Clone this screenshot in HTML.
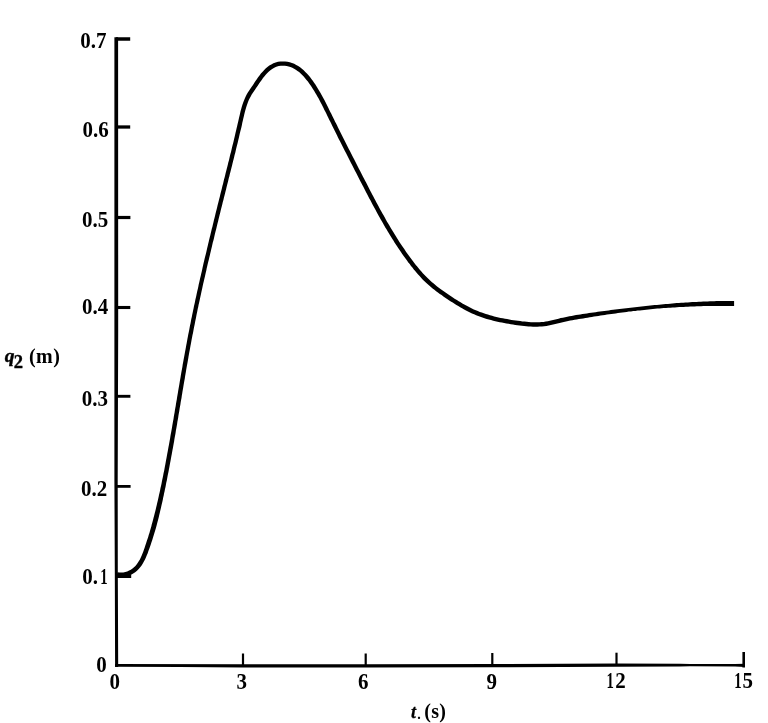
<!DOCTYPE html>
<html><head><meta charset="utf-8"><title>q2 vs t</title>
<style>
html,body{margin:0;padding:0;background:#fff;}
body{width:768px;height:723px;overflow:hidden;position:relative;}
svg{position:absolute;left:0;top:0;display:block;}
text{font-family:"Liberation Serif","DejaVu Serif",serif;font-weight:bold;font-size:21px;fill:#000;}
</style></head><body>
<svg width="768" height="723" viewBox="0 0 768 723">
<rect width="768" height="723" fill="#fff"/>
<g fill="#000" stroke="none">
<!-- y axis -->
<path d="M114.4 37.2L118.1 37.2L118.2 330L117.9 420L117.7 480L117.8 570L118.2 667L115.1 667L114.8 570L114.4 480Z"/>
<!-- x axis -->
<path d="M115 664.05L243 664.25L365 664.15L492 664.05L616 663.5L680 663.8L690 664L735 664L745 663.8L745 666.9L735 666.4L690 666.3L680 666.5L616 666.75L492 667.35L365 667.45L243 667.5L180 667.0L115 666.8Z"/>
</g>
<g stroke="#000" fill="none">
<!-- y ticks -->
<path d="M116 39H130.2" stroke-width="3.5"/>
<path d="M116 127H130.2" stroke-width="3.3"/>
<path d="M116 217.5H130.4" stroke-width="3.2"/>
<path d="M116 307.5H130.3" stroke-width="3.1"/>
<path d="M116 396.3H130.4" stroke-width="2.9"/>
<path d="M116 486.4H130.6" stroke-width="2.8"/>
<path d="M116 576.3H131.2" stroke-width="3.4"/>
<!-- x ticks -->
<g stroke-width="2.2">
<path d="M243 653.5V665"/>
<path d="M365.7 653.5V665"/>
<path d="M492.3 653V665"/>
<path d="M616.5 652.7V665"/>
<path d="M743.7 652V667.5" stroke-width="2.6"/>
</g>
</g>
<path d="M116.4 576.6L119.0 577.0L121.5 577.1L124.0 576.9L126.4 576.4L128.8 575.7L131.1 574.7L133.2 573.5L135.2 572.2L137.0 570.7L138.7 569.0L140.2 567.3L141.6 565.4L142.8 563.5L143.9 561.5L145.0 559.5L145.9 557.4L146.8 555.3L147.7 553.2L148.4 551.1L149.2 548.9L150.0 546.8L150.7 544.7L151.4 542.6L152.1 540.5L152.8 538.3L153.4 536.2L154.1 534.1L154.7 532.0L155.4 529.8L156.0 527.7L156.6 525.6L157.1 523.4L157.7 521.3L158.3 519.1L158.8 517.0L159.3 514.8L159.8 512.7L160.3 510.5L160.8 508.4L161.3 506.2L161.8 504.1L162.3 501.9L162.8 499.8L163.2 497.6L163.7 495.5L164.1 493.3L164.6 491.2L165.0 489.0L165.5 486.9L165.9 484.7L166.3 482.5L166.8 480.4L167.2 478.2L167.6 476.1L168.0 473.9L168.5 471.7L168.9 469.6L169.3 467.4L169.7 465.2L170.1 463.1L170.5 460.9L170.9 458.7L171.3 456.6L171.7 454.4L172.1 452.2L172.5 450.1L172.9 447.9L173.3 445.7L173.7 443.6L174.1 441.4L174.4 439.2L174.8 437.0L175.2 434.9L175.6 432.7L175.9 430.5L176.3 428.4L176.7 426.2L177.1 424.0L177.4 421.8L177.8 419.7L178.2 417.5L178.5 415.3L178.9 413.1L179.3 411.0L179.6 408.8L180.0 406.6L180.4 404.4L180.7 402.3L181.1 400.1L181.5 397.9L181.8 395.7L182.2 393.6L182.5 391.4L182.9 389.2L183.3 387.0L183.6 384.9L184.0 382.7L184.4 380.5L184.8 378.4L185.1 376.2L185.5 374.0L185.9 371.8L186.2 369.7L186.6 367.5L187.0 365.3L187.4 363.2L187.8 361.0L188.2 358.8L188.5 356.7L188.9 354.5L189.3 352.3L189.7 350.2L190.1 348.0L190.5 345.8L190.9 343.7L191.3 341.5L191.7 339.3L192.1 337.2L192.5 335.0L193.0 332.9L193.4 330.7L193.8 328.5L194.2 326.4L194.7 324.2L195.1 322.1L195.5 319.9L196.0 317.7L196.4 315.6L196.8 313.4L197.3 311.3L197.7 309.1L198.2 307.0L198.6 304.8L199.1 302.7L199.6 300.5L200.0 298.4L200.5 296.2L201.0 294.1L201.4 291.9L201.9 289.8L202.4 287.6L202.8 285.5L203.3 283.3L203.8 281.2L204.3 279.1L204.8 276.9L205.3 274.8L205.8 272.6L206.3 270.5L206.7 268.3L207.2 266.2L207.7 264.0L208.2 261.9L208.8 259.8L209.3 257.6L209.8 255.5L210.3 253.3L210.8 251.2L211.3 249.1L211.8 246.9L212.3 244.8L212.8 242.6L213.4 240.5L213.9 238.4L214.4 236.2L214.9 234.1L215.4 232.0L216.0 229.8L216.5 227.7L217.0 225.5L217.5 223.4L218.1 221.3L218.6 219.1L219.1 217.0L219.6 214.9L220.2 212.7L220.7 210.6L221.2 208.5L221.8 206.3L222.3 204.2L222.8 202.0L223.4 199.9L223.9 197.8L224.5 195.6L225.0 193.5L225.5 191.4L226.1 189.2L226.6 187.1L227.1 185.0L227.7 182.8L228.2 180.7L228.7 178.6L229.3 176.4L229.8 174.3L230.4 172.1L230.9 170.0L231.4 167.9L232.0 165.7L232.5 163.6L233.0 161.5L233.6 159.3L234.1 157.2L234.6 155.0L235.2 152.9L235.7 150.8L236.2 148.6L236.7 146.5L237.3 144.3L237.8 142.2L238.3 140.0L238.8 137.9L239.3 135.8L239.8 133.6L240.3 131.5L240.9 129.3L241.4 127.2L241.9 125.0L242.3 122.8L242.8 120.7L243.3 118.5L243.8 116.4L244.3 114.3L244.8 112.2L245.4 110.1L246.0 108.0L246.6 106.0L247.3 104.0L248.0 102.0L248.8 100.1L249.7 98.2L250.7 96.4L251.7 94.6L252.9 92.8L254.1 91.0L255.3 89.2L256.6 87.3L257.9 85.4L259.1 83.6L260.4 81.7L261.7 79.9L263.0 78.1L264.3 76.4L265.7 74.8L267.1 73.2L268.6 71.8L270.1 70.4L271.8 69.2L273.4 68.2L275.2 67.3L277.0 66.6L278.8 66.1L280.8 65.8L282.7 65.7L284.7 65.8L286.7 66.1L288.6 66.5L290.5 67.1L292.3 67.8L294.1 68.7L295.8 69.7L297.5 70.9L299.1 72.1L300.7 73.5L302.2 75.0L303.7 76.5L305.1 78.2L306.5 79.9L307.9 81.6L309.2 83.4L310.5 85.2L311.7 87.1L312.9 88.9L314.1 90.8L315.2 92.7L316.3 94.5L317.4 96.4L318.5 98.3L319.5 100.2L320.5 102.2L321.5 104.1L322.5 106.0L323.5 108.0L324.4 109.9L325.4 111.8L326.4 113.8L327.3 115.8L328.3 117.7L329.2 119.7L330.2 121.6L331.2 123.6L332.1 125.6L333.1 127.5L334.1 129.5L335.1 131.5L336.1 133.4L337.1 135.4L338.0 137.4L339.0 139.4L340.0 141.3L341.0 143.3L342.0 145.3L343.0 147.2L344.0 149.2L345.0 151.2L346.0 153.1L347.0 155.1L348.0 157.1L349.0 159.1L350.0 161.0L351.0 163.0L352.1 165.0L353.1 166.9L354.1 168.9L355.1 170.9L356.1 172.8L357.1 174.8L358.1 176.8L359.1 178.8L360.1 180.7L361.2 182.7L362.2 184.7L363.2 186.6L364.2 188.6L365.2 190.5L366.2 192.5L367.3 194.5L368.3 196.4L369.3 198.4L370.4 200.3L371.4 202.3L372.4 204.2L373.5 206.2L374.5 208.1L375.6 210.1L376.6 212.0L377.7 213.9L378.8 215.9L379.8 217.8L380.9 219.7L382.0 221.6L383.1 223.5L384.2 225.5L385.3 227.4L386.5 229.3L387.6 231.2L388.7 233.0L389.9 234.9L391.0 236.8L392.2 238.7L393.4 240.5L394.5 242.4L395.7 244.2L396.9 246.1L398.2 247.9L399.4 249.8L400.6 251.6L401.9 253.4L403.1 255.2L404.4 257.0L405.7 258.8L407.0 260.6L408.3 262.4L409.7 264.1L411.0 265.9L412.4 267.6L413.8 269.4L415.2 271.1L416.6 272.8L418.1 274.5L419.6 276.1L421.1 277.8L422.6 279.4L424.2 281.0L425.8 282.5L427.5 284.0L429.2 285.5L430.9 287.0L432.6 288.4L434.4 289.8L436.1 291.2L437.9 292.5L439.8 293.9L441.6 295.1L443.4 296.4L445.2 297.7L447.1 298.9L448.9 300.2L450.8 301.4L452.7 302.6L454.5 303.8L456.4 305.0L458.3 306.1L460.2 307.2L462.1 308.3L464.1 309.4L466.0 310.5L468.0 311.5L470.0 312.4L472.0 313.4L474.1 314.3L476.1 315.2L478.2 316.0L480.3 316.7L482.4 317.5L484.5 318.2L486.7 318.9L488.8 319.5L491.0 320.1L493.2 320.7L495.3 321.2L497.5 321.7L499.7 322.2L501.9 322.6L504.1 323.1L506.4 323.5L508.6 323.8L510.8 324.2L513.0 324.5L515.2 324.9L517.4 325.2L519.6 325.5L521.8 325.7L524.1 326.0L526.3 326.2L528.5 326.4L530.7 326.6L533.0 326.7L535.2 326.7L537.4 326.7L539.7 326.6L541.9 326.5L544.2 326.3L546.4 325.9L548.7 325.5L550.9 325.0L553.1 324.5L555.3 324.0L557.4 323.5L559.6 322.9L561.7 322.4L563.8 322.0L566.0 321.5L568.1 321.1L570.3 320.6L572.4 320.2L574.6 319.8L576.7 319.5L578.9 319.1L581.0 318.7L583.2 318.4L585.4 318.0L587.5 317.7L589.7 317.3L591.9 317.0L594.0 316.6L596.2 316.3L598.4 315.9L600.5 315.6L602.7 315.3L604.9 314.9L607.0 314.6L609.2 314.3L611.4 314.0L613.6 313.7L615.7 313.4L617.9 313.1L620.1 312.8L622.3 312.5L624.5 312.2L626.6 311.9L628.8 311.6L631.0 311.4L633.2 311.1L635.4 310.9L637.6 310.6L639.8 310.4L641.9 310.2L644.1 309.9L646.3 309.7L648.5 309.5L650.7 309.2L652.9 309.0L655.1 308.8L657.3 308.6L659.5 308.5L661.6 308.3L663.8 308.1L666.0 308.0L668.2 307.8L670.4 307.7L672.6 307.5L674.8 307.4L677.0 307.2L679.2 307.1L681.4 307.0L683.6 306.9L685.8 306.8L688.0 306.7L690.2 306.6L692.4 306.5L694.6 306.4L696.8 306.3L699.0 306.2L701.2 306.2L703.3 306.1L705.5 306.1L707.7 306.0L709.9 306.0L712.1 306.0L714.3 306.0L716.5 305.9L718.7 305.9L720.9 305.9L723.1 305.9L725.3 305.9L727.5 305.9L729.7 305.9L731.9 305.9L734.1 305.9L734.1 301.1L731.9 301.1L729.7 301.1L727.5 301.1L725.3 301.1L723.1 301.1L720.9 301.1L718.7 301.1L716.4 301.1L714.2 301.2L712.0 301.2L709.8 301.3L707.6 301.4L705.4 301.5L703.2 301.6L701.0 301.7L698.8 301.8L696.6 301.9L694.4 302.0L692.2 302.1L690.0 302.2L687.7 302.4L685.5 302.5L683.3 302.7L681.1 302.8L678.9 303.0L676.7 303.1L674.5 303.3L672.3 303.5L670.1 303.7L667.9 303.9L665.7 304.0L663.5 304.2L661.3 304.4L659.1 304.7L656.9 304.9L654.7 305.1L652.5 305.3L650.3 305.5L648.1 305.7L645.9 306.0L643.7 306.2L641.5 306.4L639.3 306.7L637.1 306.9L635.0 307.2L632.8 307.4L630.6 307.7L628.4 307.9L626.2 308.2L624.0 308.5L621.8 308.7L619.6 309.0L617.4 309.2L615.2 309.5L613.1 309.8L610.9 310.1L608.7 310.4L606.5 310.7L604.3 310.9L602.1 311.2L599.9 311.5L597.8 311.8L595.6 312.2L593.4 312.5L591.2 312.8L589.0 313.1L586.9 313.4L584.7 313.7L582.5 314.1L580.3 314.4L578.2 314.8L576.0 315.1L573.8 315.5L571.6 315.9L569.4 316.3L567.3 316.8L565.1 317.2L562.9 317.7L560.7 318.1L558.5 318.7L556.4 319.2L554.2 319.7L552.0 320.3L549.9 320.8L547.8 321.2L545.7 321.6L543.6 321.9L541.5 322.1L539.5 322.2L537.3 322.3L535.2 322.3L533.1 322.3L531.0 322.2L528.8 322.0L526.7 321.8L524.5 321.6L522.4 321.4L520.2 321.1L518.0 320.8L515.8 320.5L513.6 320.2L511.5 319.9L509.3 319.5L507.1 319.1L505.0 318.7L502.8 318.3L500.6 317.9L498.5 317.4L496.4 316.9L494.2 316.4L492.1 315.8L490.0 315.3L487.9 314.6L485.9 314.0L483.8 313.3L481.8 312.6L479.8 311.9L477.8 311.1L475.8 310.2L473.8 309.4L471.9 308.5L470.0 307.5L468.1 306.6L466.2 305.6L464.3 304.5L462.4 303.4L460.6 302.3L458.7 301.2L456.9 300.1L455.0 298.9L453.2 297.7L451.4 296.5L449.5 295.3L447.7 294.1L445.9 292.8L444.1 291.6L442.3 290.3L440.5 289.0L438.8 287.7L437.1 286.4L435.4 285.0L433.7 283.6L432.0 282.2L430.4 280.8L428.9 279.3L427.3 277.8L425.8 276.3L424.3 274.7L422.8 273.2L421.4 271.6L420.0 269.9L418.6 268.3L417.2 266.6L415.8 264.9L414.5 263.2L413.2 261.5L411.9 259.7L410.6 258.0L409.3 256.2L408.0 254.5L406.7 252.7L405.5 250.9L404.3 249.1L403.0 247.3L401.8 245.5L400.6 243.7L399.4 241.9L398.2 240.0L397.1 238.2L395.9 236.3L394.8 234.5L393.6 232.6L392.5 230.8L391.4 228.9L390.2 227.0L389.1 225.1L388.0 223.2L386.9 221.4L385.8 219.5L384.8 217.5L383.7 215.6L382.6 213.7L381.5 211.8L380.5 209.9L379.4 208.0L378.4 206.0L377.3 204.1L376.3 202.2L375.3 200.2L374.2 198.3L373.2 196.3L372.2 194.4L371.2 192.4L370.1 190.5L369.1 188.5L368.1 186.6L367.1 184.6L366.1 182.6L365.1 180.7L364.1 178.7L363.0 176.7L362.0 174.8L361.0 172.8L360.0 170.8L359.0 168.9L358.0 166.9L357.0 164.9L356.0 163.0L355.0 161.0L354.0 159.0L352.9 157.1L351.9 155.1L350.9 153.1L349.9 151.1L348.9 149.2L347.9 147.2L346.9 145.2L345.9 143.3L344.9 141.3L343.9 139.3L343.0 137.4L342.0 135.4L341.0 133.4L340.0 131.5L339.0 129.5L338.0 127.5L337.1 125.6L336.1 123.6L335.1 121.7L334.2 119.7L333.2 117.7L332.2 115.8L331.3 113.8L330.3 111.9L329.3 109.9L328.4 107.9L327.4 106.0L326.4 104.0L325.4 102.1L324.4 100.1L323.4 98.2L322.3 96.2L321.2 94.3L320.1 92.3L319.0 90.4L317.8 88.5L316.6 86.6L315.4 84.6L314.1 82.7L312.8 80.8L311.4 79.0L310.0 77.1L308.5 75.3L306.9 73.6L305.3 71.9L303.7 70.3L301.9 68.8L300.1 67.3L298.2 66.0L296.2 64.9L294.2 63.8L292.0 63.0L289.8 62.3L287.5 61.8L285.1 61.5L282.7 61.4L280.3 61.5L278.0 61.8L275.6 62.4L273.4 63.3L271.3 64.4L269.3 65.6L267.4 67.0L265.6 68.5L264.0 70.2L262.4 71.9L260.9 73.6L259.5 75.5L258.1 77.3L256.8 79.2L255.5 81.1L254.2 83.0L253.0 84.9L251.7 86.7L250.5 88.6L249.2 90.4L248.0 92.3L246.8 94.3L245.8 96.3L244.8 98.4L244.0 100.4L243.2 102.5L242.5 104.6L241.8 106.8L241.2 108.9L240.6 111.1L240.1 113.2L239.6 115.4L239.1 117.6L238.6 119.7L238.1 121.9L237.6 124.0L237.1 126.2L236.6 128.3L236.1 130.5L235.6 132.6L235.1 134.7L234.6 136.9L234.1 139.0L233.6 141.2L233.1 143.3L232.5 145.5L232.0 147.6L231.5 149.7L231.0 151.9L230.4 154.0L229.9 156.1L229.4 158.3L228.9 160.4L228.3 162.6L227.8 164.7L227.3 166.8L226.7 169.0L226.2 171.1L225.6 173.2L225.1 175.4L224.6 177.5L224.0 179.6L223.5 181.8L223.0 183.9L222.4 186.0L221.9 188.2L221.4 190.3L220.8 192.5L220.3 194.6L219.8 196.7L219.2 198.9L218.7 201.0L218.2 203.1L217.6 205.3L217.1 207.4L216.6 209.6L216.0 211.7L215.5 213.8L215.0 216.0L214.5 218.1L213.9 220.2L213.4 222.4L212.9 224.5L212.4 226.7L211.8 228.8L211.3 230.9L210.8 233.1L210.3 235.2L209.7 237.4L209.2 239.5L208.7 241.7L208.2 243.8L207.7 245.9L207.2 248.1L206.7 250.2L206.2 252.4L205.7 254.5L205.1 256.7L204.6 258.8L204.1 260.9L203.6 263.1L203.1 265.2L202.6 267.4L202.2 269.5L201.7 271.7L201.2 273.8L200.7 276.0L200.2 278.1L199.7 280.3L199.2 282.4L198.7 284.6L198.3 286.7L197.8 288.9L197.3 291.0L196.8 293.2L196.4 295.3L195.9 297.5L195.4 299.6L195.0 301.8L194.5 303.9L194.0 306.1L193.6 308.3L193.1 310.4L192.7 312.6L192.2 314.7L191.8 316.9L191.3 319.1L190.9 321.2L190.5 323.4L190.0 325.5L189.6 327.7L189.2 329.9L188.8 332.0L188.3 334.2L187.9 336.4L187.5 338.5L187.1 340.7L186.7 342.9L186.3 345.0L185.9 347.2L185.5 349.4L185.1 351.5L184.7 353.7L184.3 355.9L183.9 358.1L183.5 360.2L183.1 362.4L182.7 364.6L182.4 366.8L182.0 368.9L181.6 371.1L181.2 373.3L180.8 375.4L180.5 377.6L180.1 379.8L179.7 382.0L179.4 384.1L179.0 386.3L178.6 388.5L178.2 390.7L177.9 392.8L177.5 395.0L177.1 397.2L176.8 399.4L176.4 401.5L176.0 403.7L175.7 405.9L175.3 408.1L174.9 410.2L174.6 412.4L174.2 414.6L173.8 416.8L173.5 418.9L173.1 421.1L172.7 423.3L172.3 425.4L172.0 427.6L171.6 429.8L171.2 431.9L170.8 434.1L170.4 436.3L170.1 438.4L169.7 440.6L169.3 442.8L168.9 444.9L168.5 447.1L168.1 449.3L167.7 451.4L167.3 453.6L166.9 455.8L166.5 457.9L166.1 460.1L165.7 462.2L165.3 464.4L164.9 466.6L164.5 468.7L164.1 470.9L163.6 473.0L163.2 475.2L162.8 477.3L162.3 479.5L161.9 481.6L161.5 483.8L161.0 485.9L160.5 488.1L160.1 490.2L159.6 492.4L159.1 494.5L158.7 496.6L158.2 498.8L157.7 500.9L157.2 503.0L156.7 505.2L156.2 507.3L155.7 509.4L155.2 511.6L154.6 513.7L154.1 515.8L153.5 517.9L153.0 520.0L152.4 522.2L151.8 524.3L151.3 526.4L150.7 528.5L150.1 530.6L149.5 532.7L148.8 534.8L148.2 536.9L147.5 539.0L146.8 541.1L146.1 543.2L145.4 545.3L144.7 547.4L144.0 549.4L143.3 551.5L142.5 553.6L141.7 555.6L140.8 557.5L139.9 559.4L138.9 561.1L137.8 562.8L136.6 564.4L135.4 565.9L134.0 567.3L132.5 568.5L130.8 569.7L129.1 570.6L127.2 571.4L125.3 572.0L123.3 572.4L121.4 572.6L119.4 572.5L117.5 572.2Z" fill="#000"/>
<text transform="translate(80.18 48.30) scale(1 1.06)">0.7</text>
<text transform="translate(82.58 136.70) scale(1 1.06)">0.6</text>
<text transform="translate(82.09 226.70) scale(1 1.06)">0.5</text>
<text transform="translate(81.93 314.40) scale(1 1.06)">0.4</text>
<text transform="translate(81.86 406.30) scale(1 1.06)">0.3</text>
<text transform="translate(80.91 496.00) scale(1 1.06)">0.2</text>
<text transform="translate(96.18 672.10) scale(1 1.06)">0</text>
<text transform="translate(109.48 689.40) scale(1 1.06)">0</text>
<text transform="translate(236.58 689.40) scale(1 1.06)">3</text>
<text transform="translate(357.92 689.40) scale(1 1.06)">6</text>
<text transform="translate(486.58 688.80) scale(1 1.06)">9</text>
<text transform="translate(0 584.30) scale(1 1.06)"><tspan x="82.27">0.</tspan><tspan x="100.32" textLength="7.35" lengthAdjust="spacingAndGlyphs">1</tspan></text>
<text transform="translate(0 688.00) scale(1 1.06)"><tspan x="606.57" textLength="7.35" lengthAdjust="spacingAndGlyphs">1</tspan><tspan x="615.16">2</tspan></text>
<text transform="translate(0 688.20) scale(1 1.06)"><tspan x="734.17" textLength="7.35" lengthAdjust="spacingAndGlyphs">1</tspan><tspan x="742.55">5</tspan></text>
<text><tspan x="4.7" y="362" style="font-size:19.5px;font-style:italic" stroke="#000" stroke-width="0.4">q</tspan><tspan x="13.8" y="368.2" style="font-size:18.5px" stroke="#000" stroke-width="0.4">2 </tspan><tspan x="29" y="362.8" style="font-size:20px;letter-spacing:0.45px">(m)</tspan></text>
<text><tspan x="411" y="717.5" style="font-style:italic;font-size:18px" stroke="#000" stroke-width="0.3">t</tspan><tspan x="417.2" y="718.5" style="font-size:14px">.</tspan><tspan x="424.2" y="718" style="font-size:20px;letter-spacing:0.3px">(s)</tspan></text>
</svg>
</body></html>
